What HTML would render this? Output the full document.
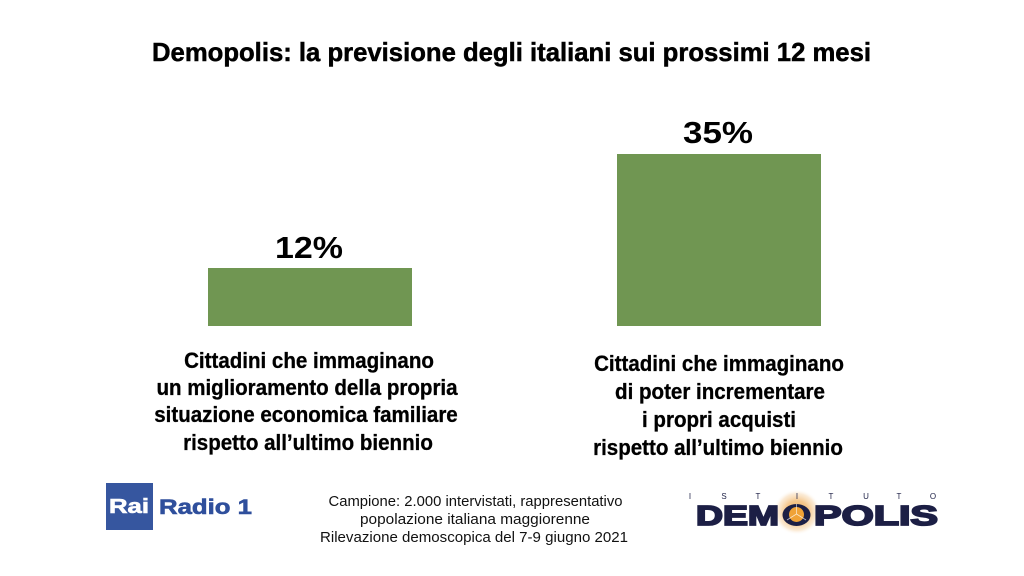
<!DOCTYPE html>
<html>
<head>
<meta charset="utf-8">
<style>
  html,body{margin:0;padding:0;background:#fff;}
  body{width:1024px;height:576px;overflow:hidden;}
  svg{display:block;}
  .t{font-family:"Liberation Sans",Arial,sans-serif;}
</style>
</head>
<body>
<svg width="1024" height="576" viewBox="0 0 1024 576" xmlns="http://www.w3.org/2000/svg">
  <defs>
    <radialGradient id="glow" cx="50%" cy="50%" r="50%">
      <stop offset="0%" stop-color="#f2a645" stop-opacity="0.95"/>
      <stop offset="50%" stop-color="#f2b66a" stop-opacity="0.75"/>
      <stop offset="80%" stop-color="#f6d2a4" stop-opacity="0.45"/>
      <stop offset="100%" stop-color="#ffffff" stop-opacity="0"/>
    </radialGradient>
  </defs>
  <rect width="1024" height="576" fill="#ffffff"/>

  <!-- Title -->
  <text class="t" x="152" y="61" font-size="26" font-weight="bold" fill="#000" stroke="#000" stroke-width="0.5" textLength="719" lengthAdjust="spacingAndGlyphs">Demopolis: la previsione degli italiani sui prossimi 12 mesi</text>

  <!-- Bars -->
  <rect x="208" y="268" width="204" height="58" fill="#709652"/>
  <rect x="617" y="154" width="204" height="172" fill="#709652"/>

  <!-- Values -->
  <text class="t" x="275" y="258" font-size="31" font-weight="bold" fill="#000" textLength="68" lengthAdjust="spacingAndGlyphs">12%</text>
  <text class="t" x="683" y="143" font-size="31" font-weight="bold" fill="#000" textLength="70" lengthAdjust="spacingAndGlyphs">35%</text>

  <!-- Left label -->
  <g class="t" font-size="22" font-weight="bold" fill="#000" stroke="#000" stroke-width="0.3" text-anchor="middle">
    <text transform="translate(309,368) scale(0.934,1)">Cittadini che immaginano</text>
    <text transform="translate(307,395) scale(0.934,1)">un miglioramento della propria</text>
    <text transform="translate(306,422) scale(0.934,1)">situazione economica familiare</text>
    <text transform="translate(308,450) scale(0.934,1)">rispetto all’ultimo biennio</text>
  </g>

  <!-- Right label -->
  <g class="t" font-size="22" font-weight="bold" fill="#000" stroke="#000" stroke-width="0.3" text-anchor="middle">
    <text transform="translate(719,371) scale(0.934,1)">Cittadini che immaginano</text>
    <text transform="translate(720,399) scale(0.934,1)">di poter incrementare</text>
    <text transform="translate(719,427) scale(0.934,1)">i propri acquisti</text>
    <text transform="translate(718,455) scale(0.934,1)">rispetto all’ultimo biennio</text>
  </g>

  <!-- Footer text -->
  <g class="t" font-size="15" fill="#111" text-anchor="middle">
    <text x="475.5" y="506" textLength="294" lengthAdjust="spacingAndGlyphs">Campione: 2.000 intervistati, rappresentativo</text>
    <text x="475" y="524" textLength="230" lengthAdjust="spacingAndGlyphs">popolazione italiana maggiorenne</text>
    <text x="474" y="542" textLength="308" lengthAdjust="spacingAndGlyphs">Rilevazione demoscopica del 7-9 giugno 2021</text>
  </g>

  <!-- Rai Radio 1 logo -->
  <rect x="106" y="483" width="47" height="47" fill="#36569f"/>
  <text class="t" x="109" y="513" font-size="20" font-weight="bold" fill="#fff" stroke="#fff" stroke-width="0.6" textLength="40" lengthAdjust="spacingAndGlyphs">Rai</text>
  <text class="t" x="159" y="514" font-size="21" font-weight="bold" fill="#2f4f9c" stroke="#2f4f9c" stroke-width="0.6" textLength="93" lengthAdjust="spacingAndGlyphs">Radio 1</text>

  <!-- Demopolis logo -->
  <ellipse cx="797" cy="512" rx="24" ry="23" fill="url(#glow)"/>
  <g class="t" font-size="8" fill="#1c1f45" text-anchor="middle">
    <text x="690" y="499">I</text>
    <text x="724" y="499">S</text>
    <text x="758" y="499">T</text>
    <text x="797" y="499">I</text>
    <text x="831" y="499">T</text>
    <text x="866" y="499">U</text>
    <text x="899" y="499">T</text>
    <text x="933" y="499">O</text>
  </g>
  <text class="t" x="696" y="525" font-size="28" font-weight="900" fill="#1c1f45" textLength="83" lengthAdjust="spacingAndGlyphs" stroke="#1c1f45" stroke-width="1.8">DEM</text>
  <text class="t" x="814" y="525" font-size="28" font-weight="900" fill="#1c1f45" textLength="124" lengthAdjust="spacingAndGlyphs" stroke="#1c1f45" stroke-width="1.8">POLIS</text>
  <ellipse cx="796.5" cy="515" rx="14" ry="11" fill="#1c1f45"/>
  <circle cx="796.5" cy="514.5" r="7.5" fill="#f0a236"/>
  <g stroke="#ffffff" stroke-width="0.8" stroke-opacity="0.7">
    <line x1="796.5" y1="514" x2="796.5" y2="504"/>
    <line x1="796.5" y1="514" x2="787" y2="520"/>
    <line x1="796.5" y1="514" x2="806" y2="520"/>
  </g>
</svg>
</body>
</html>
